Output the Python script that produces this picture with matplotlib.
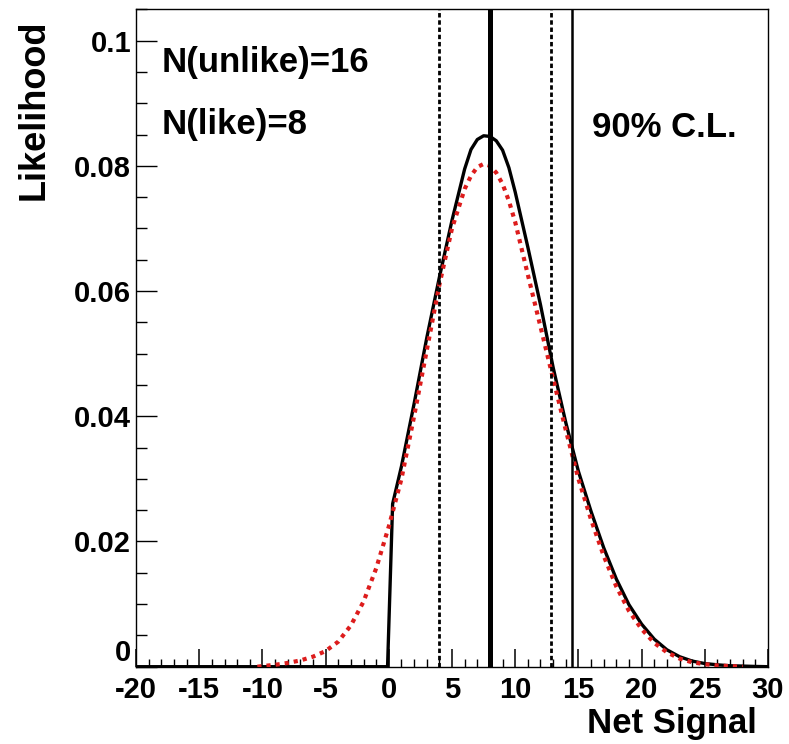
import numpy as np
import matplotlib
matplotlib.use("Agg")
import matplotlib.pyplot as plt
from matplotlib.ticker import MultipleLocator, FixedLocator, FixedFormatter

plt.rcParams['font.family'] = ['Liberation Sans', 'DejaVu Sans']
plt.rcParams['font.weight'] = 'bold'
plt.rcParams['axes.unicode_minus'] = False

# combined likelihood (black, solid)
sig_x = [-20, -0.1, 0.3, 1, 2, 3, 4, 5, 6, 6.5, 7, 7.5, 8, 8.5, 9, 9.5, 10,
         11, 12, 13, 14, 15, 16, 17, 18, 19, 20, 21, 22, 23, 24, 25, 26, 27,
         28, 29, 30]
sig_y = [0, 0, 0.026, 0.032, 0.042, 0.0525, 0.0622, 0.0713, 0.0795, 0.0826,
         0.0842, 0.0848, 0.0847, 0.0840, 0.0825, 0.0797, 0.0758,
         0.0670, 0.0578, 0.0478, 0.0390, 0.0312, 0.0248, 0.0190, 0.0140,
         0.0099, 0.0068, 0.0044, 0.0027, 0.0016, 0.0009, 0.0005, 0.0003,
         0.00015, 0.0001, 0.00004, 0]

# gaussian approximation (red, dotted)
gau_x = [-10.4, -10, -9, -8, -7, -6, -5, -4, -3, -2, -1, 0, 1, 2, 3, 4, 5, 6,
         6.5, 7, 7.5, 8, 8.5, 9, 9.5, 10, 11, 12, 13, 14, 15, 16, 17, 18, 19,
         20, 21, 22, 23, 24, 25, 26, 27, 28]
gau_y = [0, 0.0001, 0.0003, 0.0006, 0.0010, 0.0016, 0.0025, 0.0040, 0.0066,
         0.0104, 0.0157, 0.0224, 0.0300, 0.0400, 0.0505, 0.0610, 0.0700,
         0.0763, 0.0784, 0.0798, 0.0803, 0.0800, 0.0789, 0.0771, 0.0744,
         0.0710, 0.0626, 0.0543, 0.0460, 0.0378, 0.0300, 0.0235, 0.0177,
         0.0128, 0.0089, 0.0060, 0.0038, 0.0023, 0.0013, 0.0007, 0.0004,
         0.0002, 0.0001, 0]

best = 8.0
cl_low, cl_high = 3.95, 12.87
upper_limit = 14.46

ytick_vals = [0, 0.02, 0.04, 0.06, 0.08, 0.1]
ytick_labels = ["0", "0.02", "0.04", "0.06", "0.08", "0.1"]
xtick_vals = [-20, -15, -10, -5, 0, 5, 10, 15, 20, 25, 30]
xminor_vals = [v for v in range(-20, 31) if v % 5 != 0]

fig = plt.figure(figsize=(7.89, 7.44), dpi=100)
ax = fig.add_axes([0.1724, 0.1039, 0.801, 0.8836])

ax.plot(sig_x, sig_y, color="black", lw=2.4, solid_joinstyle="round", zorder=3)
ax.plot(gau_x, gau_y, color="#dd1c1c", lw=3.0, dashes=(1.0, 1.2), zorder=4)

ax.axvline(best, color="black", lw=3.6, zorder=5)
ax.axvline(upper_limit, color="black", lw=1.8, zorder=5)
for xv in (cl_low, cl_high):
    ax.axvline(xv, color="black", lw=2.0, dashes=(1.6, 1.0), zorder=5)

ax.set_xlim(-20, 30)
ax.set_ylim(0, 0.105)

ax.xaxis.set_major_locator(FixedLocator(xtick_vals))
ax.xaxis.set_minor_locator(FixedLocator(xminor_vals))
ax.yaxis.set_major_locator(FixedLocator(ytick_vals))
ax.yaxis.set_major_formatter(FixedFormatter(ytick_labels))
ax.yaxis.set_minor_locator(MultipleLocator(0.005))

ax.tick_params(axis="x", which="both", direction="in", top=False)
ax.tick_params(axis="x", which="major", length=13, width=1.1, labelsize=21, pad=7)
ax.tick_params(axis="x", which="minor", length=5.8, width=1)
ax.tick_params(axis="y", which="both", direction="in", right=False)
ax.tick_params(axis="y", which="major", length=15, width=1, labelsize=21, pad=3.5)
ax.tick_params(axis="y", which="minor", length=8, width=1)
for sp in ax.spines.values():
    sp.set_linewidth(1)

fig.canvas.draw()
ax.get_yticklabels()[0].set_va("bottom")

ax.text(0.041, 0.905, "N(unlike)=16", transform=ax.transAxes, fontsize=25,
        fontweight="bold", va="baseline", ha="left")
ax.text(0.041, 0.810, "N(like)=8", transform=ax.transAxes, fontsize=25,
        fontweight="bold", va="baseline", ha="left")
ax.text(0.721, 0.806, "90% C.L.", transform=ax.transAxes, fontsize=25,
        fontweight="bold", va="baseline", ha="left")

fig.text(0.043, 0.853, "Likelihood", rotation=90, fontsize=26,
         fontweight="bold", ha="center", va="center")
fig.text(0.959, 0.0148, "Net Signal", fontsize=25, fontweight="bold",
         ha="right", va="baseline")

fig.savefig("out.png", dpi=100)
